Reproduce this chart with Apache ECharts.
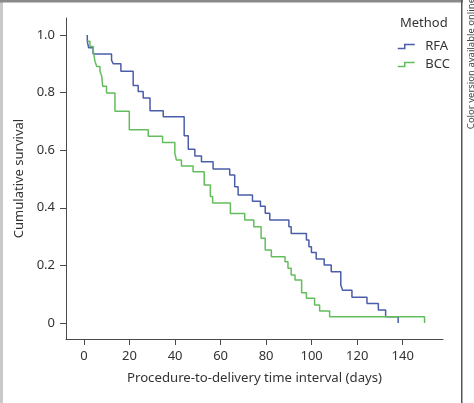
<!DOCTYPE html>
<html>
<head>
<meta charset="utf-8">
<script src="https://cdn.jsdelivr.net/npm/echarts@6/dist/echarts.min.js"></script>
<style>
html,body{margin:0;padding:0;background:#fff;}
#c{width:474px;height:403px;}
</style>
</head>
<body>
<div id="c"></div>
<script>
// ---- data ----
var seriesNames = ['RFA', 'BCC'];
var seriesColors = ['#4a5da8', '#63bd5c'];
var rfaTime = [1.45, 1.45, 2.0, 4.0, 12.1, 12.9, 16.2, 21.6, 23.8, 26.0, 29.0, 34.8, 44.0, 45.8, 48.7, 51.6, 56.7, 64.0, 66.2, 67.7, 74.0, 77.5, 79.6, 81.6, 90.0, 91.0, 97.7, 98.8, 99.9, 102.0, 105.5, 108.6, 112.8, 113.6, 117.7, 124.3, 129.3, 132.5, 138.0];
var rfaSurv = [1.0, 0.978, 0.956, 0.934, 0.912, 0.90, 0.874, 0.825, 0.804, 0.781, 0.737, 0.716, 0.65, 0.603, 0.58, 0.56, 0.535, 0.514, 0.473, 0.444, 0.423, 0.405, 0.381, 0.358, 0.334, 0.311, 0.288, 0.265, 0.245, 0.222, 0.201, 0.178, 0.132, 0.114, 0.089, 0.068, 0.045, 0.022, 0.0];
var bccTime = [1.45, 2.6, 4.1, 4.8, 5.6, 7.0, 7.8, 8.2, 9.9, 13.6, 19.9, 28.2, 34.5, 39.9, 40.6, 42.8, 47.9, 52.8, 55.5, 56.5, 64.3, 70.6, 74.6, 77.8, 79.6, 82.3, 88.3, 89.6, 91.0, 92.7, 95.6, 97.7, 101.3, 103.5, 107.9, 149.6];
var bccSurv = [0.978, 0.96, 0.943, 0.909, 0.891, 0.874, 0.857, 0.822, 0.799, 0.735, 0.671, 0.648, 0.627, 0.589, 0.566, 0.545, 0.525, 0.479, 0.439, 0.417, 0.38, 0.358, 0.334, 0.294, 0.253, 0.23, 0.213, 0.19, 0.167, 0.149, 0.105, 0.086, 0.0625, 0.042, 0.022, 0.0];
var xTicks = [0, 20, 40, 60, 80, 100, 120, 140];
var yTicks = [0, 0.2, 0.4, 0.6, 0.8, 1.0];
var xTitle = 'Procedure-to-delivery time interval (days)';
var yTitle = 'Cumulative survival';
var legendTitle = 'Method';
var sideNote = 'Color version available online';

function pairs(t, s) { var out = []; for (var i = 0; i < t.length; i++) out.push([t[i], s[i]]); return out; }

var FONT = 'Noto Sans';
var TXT = '#333';
var AX = '#4a4a4a';
var chart = echarts.init(document.getElementById('c'), null, {renderer: 'canvas'});
chart.setOption({
  animation: false,
  backgroundColor: '#fff',
  textStyle: {fontFamily: FONT},
  title: {
    text: legendTitle, left: 400, top: 17, padding: 0,
    textStyle: {fontFamily: FONT, fontSize: 13, fontWeight: 'normal', color: TXT}
  },
  legend: {
    data: [
      {name: seriesNames[0], itemStyle: {color: 'transparent', borderColor: seriesColors[0], borderWidth: 1.5}},
      {name: seriesNames[1], itemStyle: {color: 'transparent', borderColor: seriesColors[1], borderWidth: 1.5}}
    ],
    orient: 'vertical', left: 392, top: 35,
    itemWidth: 28, itemHeight: 4, itemGap: 5,
    icon: 'path://M0,4L7,4L7,0L17,0',
    textStyle: {fontFamily: FONT, fontSize: 13, color: TXT}
  },
  grid: {left: 66, right: 31, top: 18, bottom: 64, containLabel: false},
  xAxis: {
    type: 'value', min: -7.91, max: 157.7,
    name: xTitle, nameLocation: 'middle', nameGap: 33,
    nameTextStyle: {fontFamily: FONT, fontSize: 13.2, color: TXT},
    axisLine: {show: true, onZero: false, lineStyle: {color: AX, width: 1}},
    axisTick: {show: true, length: 6, lineStyle: {color: AX}, customValues: xTicks},
    axisLabel: {margin: 11, fontFamily: FONT, fontSize: 13, color: TXT, customValues: xTicks},
    splitLine: {show: false}
  },
  yAxis: {
    type: 'value', min: -0.0556, max: 1.059,
    name: yTitle, nameLocation: 'middle', nameGap: 38, nameRotate: 90,
    nameTextStyle: {fontFamily: FONT, fontSize: 13, color: TXT},
    axisLine: {show: true, onZero: false, lineStyle: {color: AX, width: 1}},
    axisTick: {show: true, length: 6, lineStyle: {color: AX}, customValues: yTicks},
    axisLabel: {margin: 11, fontFamily: FONT, fontSize: 13, color: TXT, customValues: yTicks,
      formatter: function (v) { return Math.abs(v) < 1e-9 ? '0' : v.toFixed(1); }},
    splitLine: {show: false}
  },
  series: [
    {name: seriesNames[0], type: 'line', step: 'end', showSymbol: false, symbol: 'none',
     data: pairs(rfaTime, rfaSurv), color: seriesColors[0], lineStyle: {width: 1.5, color: seriesColors[0]}, z: 2},
    {name: seriesNames[1], type: 'line', step: 'end', showSymbol: false, symbol: 'none',
     data: pairs(bccTime, bccSurv), color: seriesColors[1], lineStyle: {width: 1.5, color: seriesColors[1]}, z: 3}
  ],
  graphic: [
    {type: 'rect', shape: {x: 0, y: 0, width: 3, height: 403}, style: {fill: '#c9c9c9'}, silent: true},
    {type: 'rect', shape: {x: 0, y: 0, width: 463, height: 2.5}, style: {fill: '#8a8a8a'}, silent: true},
    {type: 'rect', shape: {x: 461, y: 0, width: 1.5, height: 403}, style: {fill: '#555'}, silent: true},
    {type: 'text', x: 471, y: -2, rotation: Math.PI / 2,
     style: {text: sideNote, fontFamily: FONT, fontSize: 9.5, fill: '#444', textAlign: 'right', textVerticalAlign: 'middle'}, silent: true}
  ]
});
</script>
</body>
</html>
